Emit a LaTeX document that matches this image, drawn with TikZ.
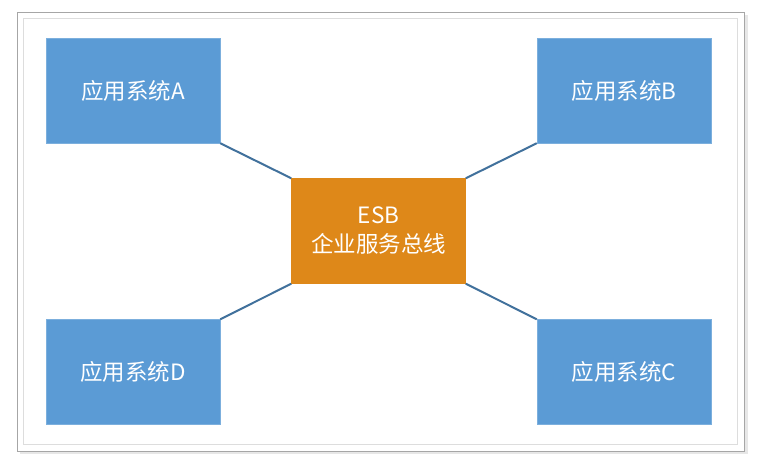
\documentclass[tikz,border=0pt]{standalone}
\usepackage{fontspec}
\setmainfont{Noto Sans CJK SC}
\usetikzlibrary{positioning}
\definecolor{sysblue}{HTML}{5B9BD5}
\definecolor{busorange}{HTML}{DE8819}
\definecolor{linkblue}{HTML}{41719C}
\definecolor{framegray}{HTML}{A6A6A6}
\definecolor{innergray}{HTML}{DDDDDD}
\tikzset{
  sysbox/.style={fill=sysblue, draw=sysblue!80!white, minimum width=174pt, minimum height=105pt, text=white, font=\fontsize{22.5}{29}\selectfont, inner sep=0pt},
  busbox/.style={sysbox, fill=busorange, draw=busorange, align=center},
  link/.style={draw=linkblue, line width=2pt}
}
\begin{document}
\begin{tikzpicture}[x=1pt, y=-1pt]
    \useasboundingbox (0,0) rectangle (758,455);
    % frame
    \fill[innergray!70] (20,15) rectangle (748,454);
    \draw[framegray, fill=white] (17,12) rectangle (744,451);
    \draw[innergray, line width=1.2pt] (23.5,18.5) rectangle (737.5,444.5);
    % boxes
    \node[sysbox] (sysA) at (133,90.5) {应用系统A};
    \node[sysbox] (sysB) at (624,90.5) {应用系统B};
    \node[sysbox] (sysD) at (133,372) {应用系统D};
    \node[sysbox] (sysC) at (624,372) {应用系统C};
    \node[busbox] (esb) at (378.5,231) {ESB\\企业服务总线};
    % links
    \draw[link] (sysA.south east) -- (esb.north west);
    \draw[link] (sysB.south west) -- (esb.north east);
    \draw[link] (sysD.north east) -- (esb.south west);
    \draw[link] (sysC.north west) -- (esb.south east);
\end{tikzpicture}
\end{document}
